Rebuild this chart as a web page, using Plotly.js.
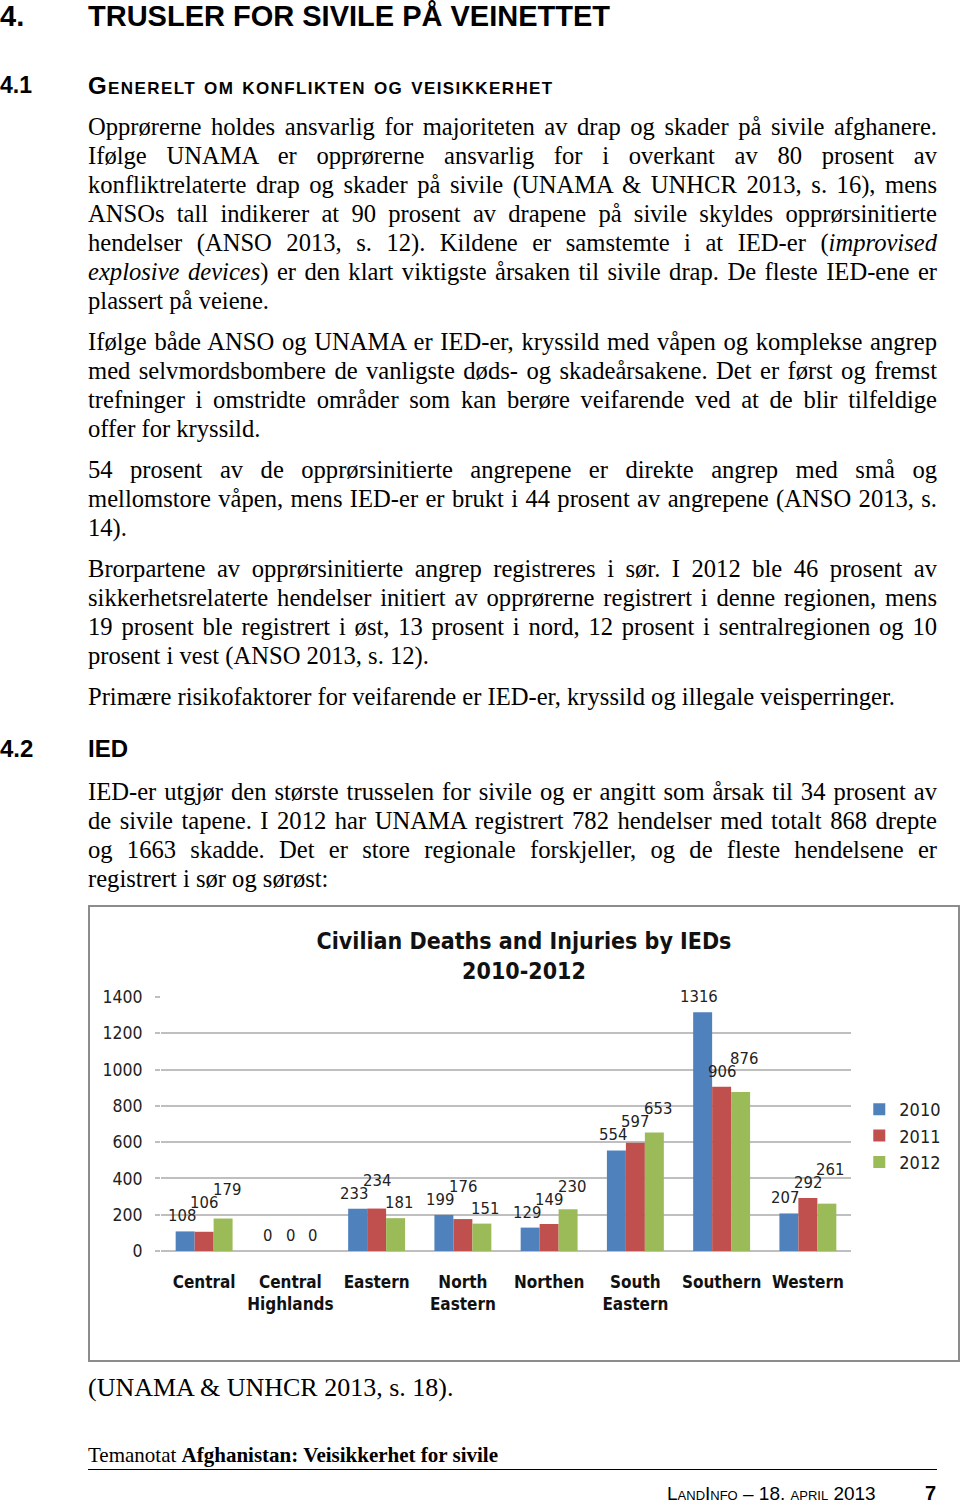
<!DOCTYPE html>
<html>
<head>
<meta charset="utf-8">
<script src="https://cdn.plot.ly/plotly-3.0.1.min.js"></script>
<style>
  html, body { margin:0; padding:0; background:#fff; }
  body { width:960px; height:1503px; position:relative; overflow:hidden; }
  .h { position:absolute; font-family:"Liberation Sans", Arial, sans-serif; font-weight:bold; color:#000; white-space:nowrap; }
  .p { position:absolute; left:88px; width:849px; font-family:"Liberation Serif", "Times New Roman", serif; font-size:24.6px; line-height:29px; color:#000; }
  .p .l { text-align:justify; text-align-last:justify; white-space:nowrap; }
  .p .e { text-align:left; white-space:nowrap; }
  #chartbox { position:absolute; left:88px; top:905px; width:868px; height:453px; border:2px solid #8c8c8c; }
  #chart { width:868px; height:453px; }
</style>
</head>
<body>
<div class="h" style="left:0;top:0px;font-size:29px;">4.</div>
<div class="h" style="left:88px;top:0px;font-size:29px;">TRUSLER FOR SIVILE PÅ VEINETTET</div>
<div class="h" style="left:0;top:72px;font-size:23px;">4.1</div>
<div class="h" style="left:88px;top:72px;font-size:24px;letter-spacing:1.4px;font-variant:small-caps;">Generelt om konflikten og veisikkerhet</div>

<div class="p" style="top:112px;">
  <div class="l">Opprørerne holdes ansvarlig for majoriteten av drap og skader på sivile afghanere.</div>
  <div class="l">Ifølge UNAMA er opprørerne ansvarlig for i overkant av 80 prosent av</div>
  <div class="l">konfliktrelaterte drap og skader på sivile (UNAMA &amp; UNHCR 2013, s. 16), mens</div>
  <div class="l">ANSOs tall indikerer at 90 prosent av drapene på sivile skyldes opprørsinitierte</div>
  <div class="l">hendelser (ANSO 2013, s. 12). Kildene er samstemte i at IED-er (<i>improvised</i></div>
  <div class="l"><i>explosive devices</i>) er den klart viktigste årsaken til sivile drap. De fleste IED-ene er</div>
  <div class="e">plassert på veiene.</div>
</div>

<div class="p" style="top:327px;">
  <div class="l">Ifølge både ANSO og UNAMA er IED-er, kryssild med våpen og komplekse angrep</div>
  <div class="l">med selvmordsbombere de vanligste døds- og skadeårsakene. Det er først og fremst</div>
  <div class="l">trefninger i omstridte områder som kan berøre veifarende ved at de blir tilfeldige</div>
  <div class="e">offer for kryssild.</div>
</div>

<div class="p" style="top:455px;">
  <div class="l">54 prosent av de opprørsinitierte angrepene er direkte angrep med små og</div>
  <div class="l">mellomstore våpen, mens IED-er er brukt i 44 prosent av angrepene (ANSO 2013, s.</div>
  <div class="e">14).</div>
</div>

<div class="p" style="top:554px;">
  <div class="l">Brorpartene av opprørsinitierte angrep registreres i sør. I 2012 ble 46 prosent av</div>
  <div class="l">sikkerhetsrelaterte hendelser initiert av opprørerne registrert i denne regionen, mens</div>
  <div class="l">19 prosent ble registrert i øst, 13 prosent i nord, 12 prosent i sentralregionen og 10</div>
  <div class="e">prosent i vest (ANSO 2013, s. 12).</div>
</div>

<div class="p" style="top:682px;">
  <div class="e">Primære risikofaktorer for veifarende er IED-er, kryssild og illegale veisperringer.</div>
</div>

<div class="h" style="left:0;top:735px;font-size:24px;">4.2</div>
<div class="h" style="left:88px;top:735px;font-size:24px;">IED</div>

<div class="p" style="top:777px;">
  <div class="l">IED-er utgjør den største trusselen for sivile og er angitt som årsak til 34 prosent av</div>
  <div class="l">de sivile tapene. I 2012 har UNAMA registrert 782 hendelser med totalt 868 drepte</div>
  <div class="l">og 1663 skadde. Det er store regionale forskjeller, og de fleste hendelsene er</div>
  <div class="e">registrert i sør og sørøst:</div>
</div>

<div id="chartbox"><div id="chart"></div></div>

<div class="p" style="top:1373px;font-size:26px;">
  <div class="e">(UNAMA &amp; UNHCR 2013, s. 18).</div>
</div>

<div style="position:absolute;left:88px;top:1443px;font-family:'Liberation Serif','Times New Roman',serif;font-size:21px;white-space:nowrap;">Temanotat <b>Afghanistan: Veisikkerhet for sivile</b></div>
<div style="position:absolute;left:88px;top:1469px;width:849px;height:0;border-top:1.5px solid #000;"></div>
<div style="position:absolute;left:667px;top:1483px;font-family:'Liberation Sans',Arial,sans-serif;font-size:19px;font-variant:small-caps;white-space:nowrap;">LandInfo – 18. april 2013</div>
<div style="position:absolute;left:925px;top:1482px;font-family:'Liberation Sans',Arial,sans-serif;font-size:20px;font-weight:bold;">7</div>

<script>
const categories = ["Central", "Central<br>Highlands", "Eastern", "North<br>Eastern", "Northen", "South<br>Eastern", "Southern", "Western"];
const years = ["2010", "2011", "2012"];
const v2010 = [108, 0, 233, 199, 129, 554, 1316, 207];
const v2011 = [106, 0, 234, 176, 149, 597, 906, 292];
const v2012 = [179, 0, 181, 151, 230, 653, 876, 261];
const yTicks = [0, 200, 400, 600, 800, 1000, 1200, 1400];
const colors = ["#4F81BD", "#C0504D", "#9BBB59"];
const series = [v2010, v2011, v2012];

const chartFont = "'DejaVu Sans Condensed', 'Roboto', sans-serif";

const W = 868, H = 453;
const margin = { l: 71, r: 88, t: 90, b: 109 };
const yMax = 1400;
const bargap = 0.34;
const plotW = W - margin.l - margin.r;
const plotH = H - margin.t - margin.b;
const pxPerUnit = plotH / yMax;
const catPx = plotW / categories.length;
const barPx = catPx * (1 - bargap) / series.length;
const labelFont = 16.5;
const labelStep = 13;     // vertical step used to un-stack neighbouring labels
const baseShift = 4;
const digitPx = 9.6;

const traces = series.map((vals, i) => ({
  type: "bar",
  name: years[i],
  x: categories,
  y: vals,
  marker: { color: colors[i] },
  cliponaxis: false,
  hoverinfo: "none"
}));

// data labels at bar tops; a label that would collide with its left neighbour is lifted
const annotations = [];
categories.forEach((cat, j) => {
  let prev = null;
  series.forEach((vals, i) => {
    const v = vals[j];
    const txt = String(v);
    const w = txt.length * digitPx;
    const xs = (i - 1) * barPx + (i - 1) * 3;
    let yPx = v * pxPerUnit + baseShift;
    if (prev) {
      const hOverlap = (xs - prev.xs) < (w + prev.w) / 2;
      const vOverlap = Math.abs(yPx - prev.yPx) < labelStep;
      if (hOverlap && vOverlap) yPx = prev.yPx + labelStep;
    }
    prev = { xs, w, yPx };
    annotations.push({
      x: cat, y: v, xref: "x", yref: "y",
      text: txt, showarrow: false,
      xanchor: "center", yanchor: "bottom",
      xshift: xs,
      yshift: yPx - v * pxPerUnit,
      font: { family: chartFont, size: labelFont, color: "#222" }
    });
  });
});

const layout = {
  width: W,
  height: H,
  margin: margin,
  paper_bgcolor: "#fff",
  plot_bgcolor: "#fff",
  font: { family: chartFont, color: "#222" },
  title: {
    text: "<b>Civilian Deaths and Injuries by IEDs</b><br><b>2010-2012</b>",
    font: { family: chartFont, size: 23, color: "#111" },
    x: 0.5, xref: "container", xanchor: "center",
    y: 0.907, yref: "container", yanchor: "middle"
  },
  barmode: "group",
  bargap: bargap,
  bargroupgap: 0,
  annotations: annotations,
  xaxis: {
    type: "category",
    tickfont: { family: chartFont, size: 17, color: "#111", weight: "bold" },
    ticks: "",
    ticklabelstandoff: 19,
    showline: false,
    showgrid: false,
    zeroline: false,
    fixedrange: true
  },
  yaxis: {
    range: [0, yMax],
    tickvals: yTicks,
    ticktext: yTicks.map(String),
    tickfont: { family: chartFont, size: 17.5, color: "#222" },
    ticks: "outside",
    ticklen: 5,
    tickwidth: 2,
    tickcolor: "#bfbfbf",
    ticklabelstandoff: 9,
    showgrid: true,
    gridcolor: "#bfbfbf",
    gridwidth: 2,
    zeroline: true,
    zerolinecolor: "#bfbfbf",
    zerolinewidth: 2,
    showline: false,
    fixedrange: true
  },
  legend: {
    x: 1.012, xanchor: "left",
    y: 0.453, yanchor: "middle",
    font: { family: chartFont, size: 18, color: "#222" },
    itemwidth: 30,
    tracegroupgap: 0
  },
  showlegend: true
};

Plotly.newPlot("chart", traces, layout, { staticPlot: true, displayModeBar: false });
</script>
</body>
</html>
